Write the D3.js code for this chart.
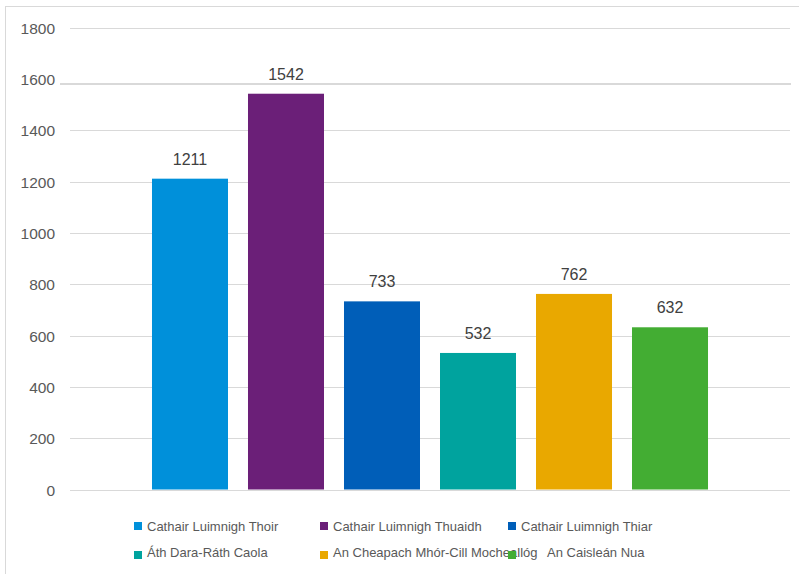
<!DOCTYPE html>
<html>
<head>
<meta charset="utf-8">
<script src="https://cdn.jsdelivr.net/npm/d3@7"></script>
<style>
  html, body { margin: 0; padding: 0; background: #fff; }
  svg { display: block; font-family: "Liberation Sans", Arial, sans-serif; }
</style>
</head>
<body>
<svg id="chart" width="799" height="574"></svg>
<script>
const categories = [
  "Cathair Luimnigh Thoir",
  "Cathair Luimnigh Thuaidh",
  "Cathair Luimnigh Thiar",
  "Áth Dara-Ráth Caola",
  "An Cheapach Mhór-Cill Mocheallóg",
  "An Caisleán Nua"
];
const values = [1211, 1542, 733, 532, 762, 632];
const colors = ["#0090da", "#6b1f78", "#005eb8", "#00a39e", "#e9a800", "#43ad33"];
const yTicks = [0, 200, 400, 600, 800, 1000, 1200, 1400, 1600, 1800];

const svg = d3.select("#chart");

// chart frame
svg.append("rect")
  .attr("x", 5.5).attr("y", 6.5)
  .attr("width", 900).attr("height", 700)
  .attr("fill", "#fff").attr("stroke", "#d9d9d9").attr("stroke-width", 1);

const plotLeft = 70, plotRight = 790;
const y = d3.scaleLinear().domain([0, 1800]).range([489.5, 27.5]);
const x = d3.scaleBand().domain(categories).range([plotLeft, plotRight])
  .paddingInner(20 / 96).paddingOuter(0.854);

// gridlines
const grid = svg.append("g");
yTicks.forEach(t => {
  const special = t === 1600;
  const yy = Math.round(y(t)) + 0.5 + (special ? 4.5 : 0);
  grid.append("line")
    .attr("x1", special ? 60 : plotLeft).attr("x2", special ? 791 : plotRight)
    .attr("y1", yy).attr("y2", yy)
    .attr("stroke", "#d9d9d9").attr("stroke-width", special ? 2 : 1);
});

// y axis labels
const yAxis = d3.axisLeft(y).tickValues(yTicks).tickSize(0).tickPadding(0).tickFormat(d3.format("d"));
const ag = svg.append("g").attr("transform", "translate(55,0)").call(yAxis);
ag.select(".domain").remove();
ag.selectAll("text")
  .attr("fill", "#595959")
  .style("font-size", "15.5px")
  .style("font-family", "'Liberation Sans', Arial, sans-serif")
  .attr("dy", "0.36em");

// bars
svg.append("g").selectAll("rect").data(values).join("rect")
  .attr("x", (d, i) => x(categories[i]))
  .attr("y", d => y(d))
  .attr("width", x.bandwidth())
  .attr("height", d => y(0) - y(d))
  .attr("fill", (d, i) => colors[i]);

// value labels
svg.append("g").selectAll("text").data(values).join("text")
  .attr("x", (d, i) => x(categories[i]) + x.bandwidth() / 2)
  .attr("y", d => y(d) - 14)
  .attr("text-anchor", "middle")
  .attr("fill", "#404040")
  .style("font-size", "16px")
  .text(d => d);

// legend
const legendPos = [
  {sx: 134, tx: 147, sy: 522, ty: 531},
  {sx: 320, tx: 333, sy: 522, ty: 531},
  {sx: 508, tx: 521, sy: 522, ty: 531},
  {sx: 134, tx: 147, sy: 551, ty: 557},
  {sx: 320, tx: 333, sy: 551, ty: 557},
  {sx: 508, tx: 547, sy: 551, ty: 557}
];
const lg = svg.append("g");
categories.forEach((c, i) => {
  const p = legendPos[i];
  lg.append("text").attr("x", p.tx).attr("y", p.ty)
    .attr("fill", "#595959").style("font-size", "13px").text(c);
});
categories.forEach((c, i) => {
  const p = legendPos[i];
  lg.append("rect").attr("x", p.sx).attr("y", p.sy)
    .attr("width", 8).attr("height", 8).attr("fill", colors[i]);
});
</script>
</body>
</html>
